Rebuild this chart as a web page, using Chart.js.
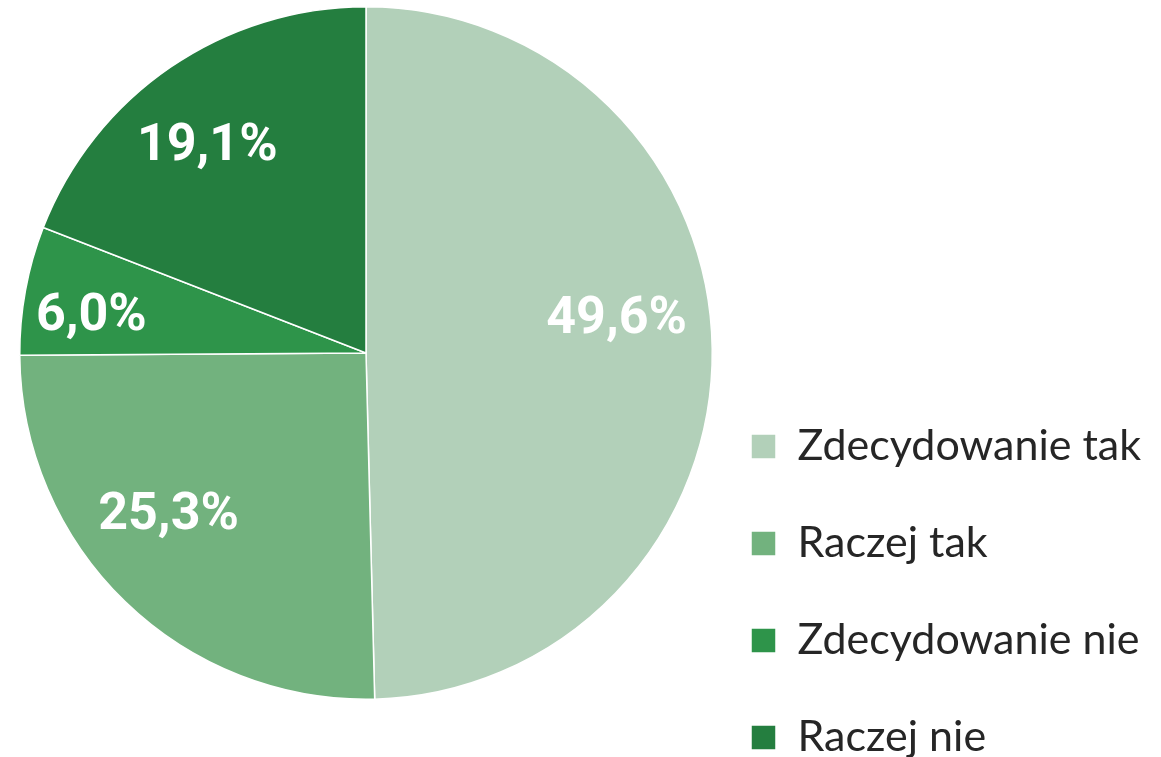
<!DOCTYPE html>
<html>
<head>
<meta charset="utf-8">
<script src="https://cdn.jsdelivr.net/npm/chart.js@4.4.1/dist/chart.umd.min.js"></script>
<style>
  html, body { margin: 0; padding: 0; background: #fff; }
  #wrap { width: 1161px; height: 757px; position: relative; }
</style>
</head>
<body>
<div id="wrap"><canvas id="chart"></canvas></div>
<script>
const categories = ["Zdecydowanie tak", "Raczej tak", "Zdecydowanie nie", "Raczej nie"];
const shares = [49.6, 25.3, 6.0, 19.1];
const sliceColors = ["#b2d0b9", "#72b27e", "#2e944a", "#247e3f"];

// small angle nudges (degrees) and radius fractions for the value labels
const labelNudge = [-6.8, 6.3, -3, -3.3];
const labelRadius = [0.73, 0.74, 0.8, 0.75];

const sliceLabels = {
    id: "sliceLabels",
    afterDatasetsDraw(chart) {
        const { ctx } = chart;
        const meta = chart.getDatasetMeta(0);
        ctx.save();
        ctx.fillStyle = "#ffffff";
        ctx.font = "bold 52px Roboto";
        ctx.textAlign = "center";
        ctx.textBaseline = "middle";
        meta.data.forEach((arc, i) => {
            const { x, y, startAngle, endAngle, outerRadius } = arc.getProps(
                ["x", "y", "startAngle", "endAngle", "outerRadius"], true);
            const mid = (startAngle + endAngle) / 2 + labelNudge[i] * Math.PI / 180;
            const r = outerRadius * labelRadius[i];
            const text = shares[i].toFixed(1).replace(".", ",") + "%";
            ctx.fillText(text, x + Math.cos(mid) * r, y + Math.sin(mid) * r);
        });
        ctx.restore();
    },
};

// keep the pie where it is and push the legend down to the bottom right
const legendPlacement = {
    id: "legendPlacement",
    beforeUpdate(chart) {
        const legend = chart.legend;
        if (!legend || legend._fitPatched) {
            return;
        }
        const fit = legend.fit.bind(legend);
        legend.fit = function () {
            fit();
            this.width = 448;
        };
        legend._fitPatched = true;
    },
    afterLayout(chart) {
        const legend = chart.legend;
        legend.left = 697;
        legend.right = 1161;
        legend.width = legend.right - legend.left;
        legend.top = 0;
        legend.bottom = 813;
        legend.height = legend.bottom - legend.top;
    },
};

new Chart(document.getElementById("chart"), {
    type: "pie",
    data: {
        labels: categories,
        datasets: [{
            data: shares,
            backgroundColor: sliceColors,
            borderColor: "#ffffff",
            borderWidth: 1.5,
        }],
    },
    options: {
        responsive: true,
        maintainAspectRatio: false,
        animation: false,
        layout: {
            padding: { left: 19, top: 6, bottom: 57, right: 0 },
        },
        plugins: {
            legend: {
                position: "right",
                align: "end",
                labels: {
                    boxWidth: 25,
                    boxHeight: 25,
                    padding: 54,
                    color: "#262626",
                    font: { family: "Lato", size: 43 },
                },
            },
            tooltip: { enabled: false },
        },
    },
    plugins: [legendPlacement, sliceLabels],
});
</script>
</body>
</html>
